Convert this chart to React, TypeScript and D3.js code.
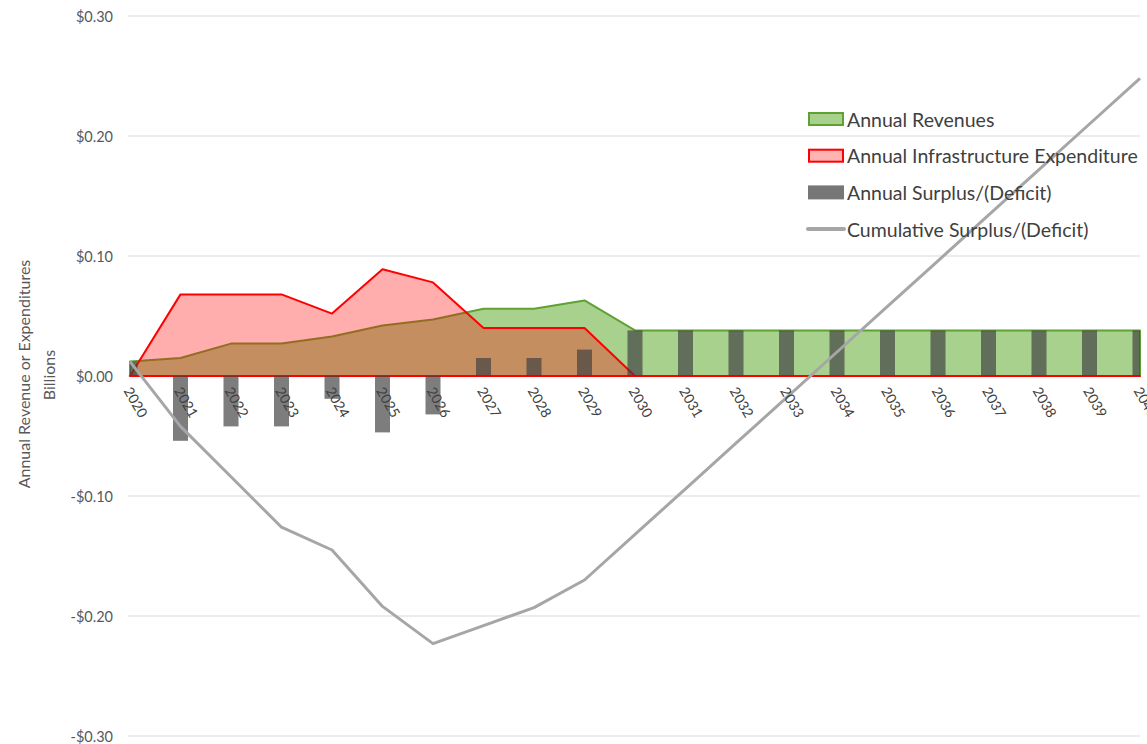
import React from "react";
import * as d3 from "d3";

// Fiscal years on the category axis
const years = [
  "2020", "2021", "2022", "2023", "2024", "2025", "2026", "2027", "2028", "2029", "2030",
  "2031", "2032", "2033", "2034", "2035", "2036", "2037", "2038", "2039", "2040",
];

// Values in billions of dollars
const annualRevenues = [
  0.012, 0.015, 0.027, 0.027, 0.033, 0.042, 0.047, 0.056, 0.056, 0.063, 0.038,
  0.038, 0.038, 0.038, 0.038, 0.038, 0.038, 0.038, 0.038, 0.038, 0.038,
];
const annualExpenditure = [
  0.0, 0.068, 0.068, 0.068, 0.052, 0.089, 0.078, 0.04, 0.04, 0.04, 0.0,
  0.0, 0.0, 0.0, 0.0, 0.0, 0.0, 0.0, 0.0, 0.0, 0.0,
];
const annualSurplus = [
  0.012, -0.054, -0.042, -0.042, -0.019, -0.047, -0.032, 0.015, 0.015, 0.022, 0.038,
  0.038, 0.038, 0.038, 0.038, 0.038, 0.038, 0.038, 0.038, 0.038, 0.038,
];
const cumulativeSurplus = [
  0.012, -0.042, -0.084, -0.126, -0.145, -0.192, -0.223, -0.208, -0.193, -0.17, -0.132,
  -0.094, -0.056, -0.018, 0.02, 0.058, 0.096, 0.134, 0.172, 0.21, 0.248,
];

const yTicks = [0.3, 0.2, 0.1, 0.0, -0.1, -0.2, -0.3];

const legendItems = [
  "Annual Revenues",
  "Annual Infrastructure Expenditure",
  "Annual Surplus/(Deficit)",
  "Cumulative Surplus/(Deficit)",
];

const W = 1147;
const H = 744;
const plotLeft = 130;
const plotRight = 1140;
const font = "Lato, 'Open Sans', sans-serif";

const fmt = (v: number) => {
  const s = "$" + Math.abs(v).toFixed(2);
  return v < 0 ? "-" + s : s;
};

export default function App() {
  const x = d3.scalePoint<string>().domain(years).range([plotLeft, plotRight]);
  const y = d3.scaleLinear().domain([-0.3, 0.3]).range([736, 16]);

  const revRows = years.map((yr, i) => ({ yr, v: annualRevenues[i] }));
  const expRows = years.map((yr, i) => ({ yr, v: annualExpenditure[i] }));
  const cumRows = years.map((yr, i) => ({ yr, v: cumulativeSurplus[i] }));

  const area = d3
    .area<{ yr: string; v: number }>()
    .x((d) => x(d.yr)!)
    .y0(y(0))
    .y1((d) => y(d.v));
  const line = d3
    .line<{ yr: string; v: number }>()
    .x((d) => x(d.yr)!)
    .y((d) => y(d.v));

  const barW = 15;
  const legendX = 808;
  const legendY0 = 119;
  const legendStep = 36.7;

  return (
    <svg
      width={W}
      height={H}
      style={{ position: "absolute", left: 0, top: 0, background: "#fff" }}
      fontFamily={font}
    >
      <defs>
        <clipPath id="plotClip">
          <rect x={plotLeft} y={0} width={plotRight - plotLeft} height={H} />
        </clipPath>
      </defs>

      {/* gridlines and value axis labels */}
      {yTicks.map((t) => (
        <g key={t}>
          <line x1={128} x2={plotRight} y1={y(t)} y2={y(t)} stroke="#d9d9d9" strokeWidth={1} />
          <text
            x={113}
            y={y(t)}
            textAnchor="end"
            dominantBaseline="central"
            fontSize={14.5}
            fill="#595959"
          >
            {fmt(t)}
          </text>
        </g>
      ))}

      {/* axis title */}
      <text
        transform={`translate(23,${y(0) - 2}) rotate(-90)`}
        textAnchor="middle"
        dominantBaseline="central"
        fontSize={16}
        fill="#595959"
      >
        Annual Revenue or Expenditures
      </text>
      <text
        transform={`translate(48,${y(0) - 1}) rotate(-90)`}
        textAnchor="middle"
        dominantBaseline="central"
        fontSize={16}
        fill="#595959"
      >
        Billions
      </text>

      {/* revenue area */}
      <path d={area(revRows)!} fill="#a9d18e" stroke="#5fa232" strokeWidth={2} strokeLinejoin="round" />
      {/* expenditure area, translucent over revenues */}
      <path d={area(expRows)!} fill="rgba(255,0,0,0.32)" stroke="none" />
      <path
        d={area(expRows)!}
        fill="none"
        stroke="#ff0000"
        strokeWidth={2}
        strokeLinejoin="round"
      />

      {/* annual surplus columns */}
      <g clipPath="url(#plotClip)">
        {years.map((yr, i) => {
          const v = annualSurplus[i];
          const y0 = y(Math.max(0, v));
          const y1 = y(Math.min(0, v));
          return (
            <rect
              key={yr}
              x={x(yr)! - barW / 2}
              y={y0}
              width={barW}
              height={y1 - y0}
              fill="rgba(64,64,64,0.68)"
            />
          );
        })}
      </g>

      {/* cumulative surplus line */}
      <path
        d={line(cumRows)!}
        fill="none"
        stroke="#a6a6a6"
        strokeWidth={3}
        strokeLinejoin="round"
      />

      {/* category labels */}
      {years.map((yr) => (
        <text
          key={yr}
          transform={`translate(${x(yr)! - 2},${388}) rotate(60)`}
          textAnchor="start"
          dominantBaseline="central"
          fontSize={14}
          fill="#404040"
        >
          {yr}
        </text>
      ))}

      {/* legend */}
      {legendItems.map((label, i) => {
        const cy = legendY0 + i * legendStep;
        let swatch;
        if (i === 0) {
          swatch = (
            <rect x={legendX + 1} y={cy - 6} width={34} height={12} fill="#a9d18e" stroke="#5fa232" strokeWidth={2} />
          );
        } else if (i === 1) {
          swatch = (
            <rect x={legendX + 1} y={cy - 6} width={34} height={12} fill="#ffb3b3" stroke="#ff0000" strokeWidth={2} />
          );
        } else if (i === 2) {
          swatch = <rect x={legendX} y={cy - 7} width={36} height={14} fill="#767676" />;
        } else {
          swatch = (
            <line x1={legendX} x2={legendX + 36} y1={cy} y2={cy} stroke="#a6a6a6" strokeWidth={4} strokeLinecap="round" />
          );
        }
        return (
          <g key={label}>
            {swatch}
            <text
              x={legendX + 39}
              y={cy}
              dominantBaseline="central"
              fontSize={19.5}
              fill="#404040"
            >
              {label}
            </text>
          </g>
        );
      })}
    </svg>
  );
}
